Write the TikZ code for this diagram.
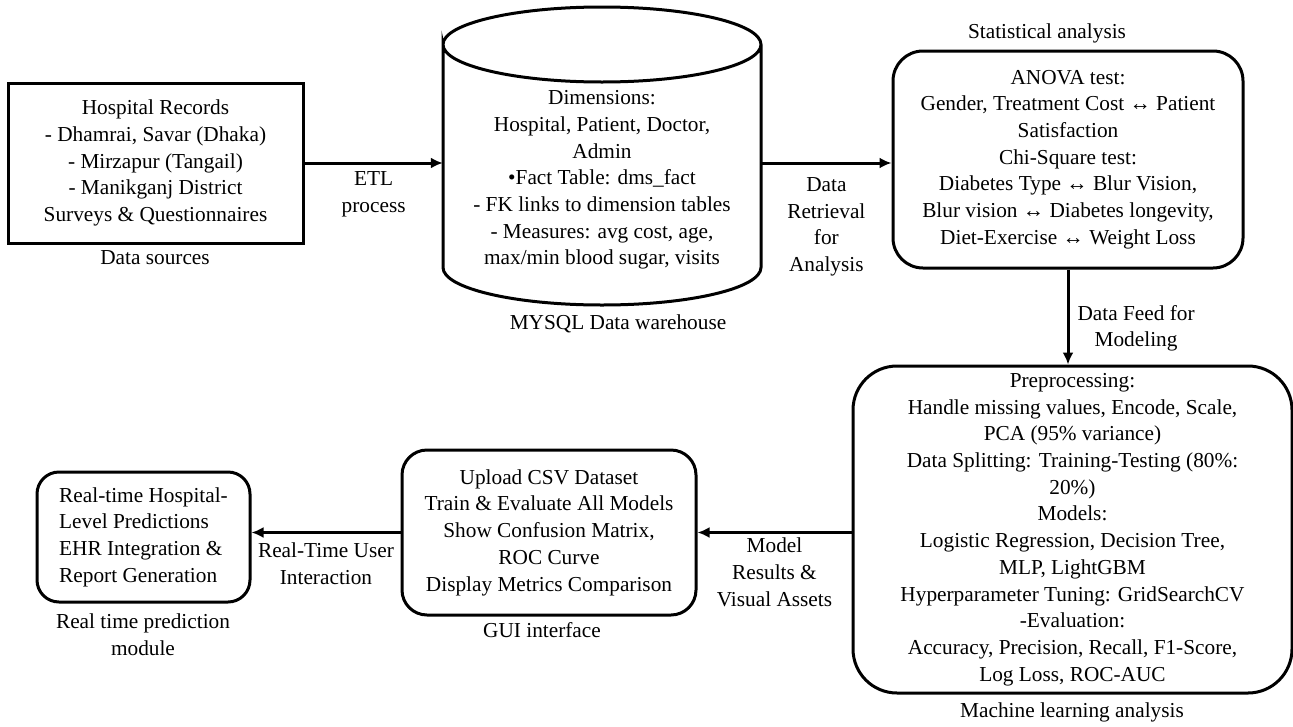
\documentclass[tikz,border=0pt]{standalone}
\usepackage{fontspec}
\setmainfont{Liberation Serif}
\usetikzlibrary{positioning,arrows.meta}
\tikzset{block/.style = {draw, line width=3pt, align=center, inner sep=0pt}}
\tikzset{rblock/.style = {block, rounded corners=28pt}}
\tikzset{caption/.style = {align=center, inner sep=0pt}}
\tikzset{flow/.style = {->, line width=3pt}}

\begin{document}
\begin{tikzpicture}[x=1pt, y=1pt, >={Latex[length=12pt,width=11pt]}, font=\fontsize{21.3}{26.7}\selectfont]
  \useasboundingbox (0,0) rectangle (1293,-726);

  \node [block, minimum width=295pt, minimum height=160pt] (src) at (155.5,-163) {Hospital Records\\- Dhamrai, Savar (Dhaka)\\- Mirzapur (Tangail)\\- Manikganj District\\Surveys \& Questionnaires};
  \node [caption] (srccap) at (155,-258) {Data sources};

  % warehouse: text node, outline drawn round it
  \node [caption, minimum width=318pt] (dw) at (602,-180) {Dimensions:\\Hospital, Patient, Doctor,\\Admin\\•Fact Table: dms\_fact\\- FK links to dimension tables\\- Measures: avg cost, age,\\max/min blood sugar, visits};
  \draw [line width=3pt] ([shift={(-159pt,135.5pt)}]dw.center) arc [start angle=180, end angle=-180, x radius=159pt, y radius=37.5pt]
    -- ([shift={(-159pt,-87.5pt)}]dw.center) arc [start angle=180, end angle=360, x radius=159pt, y radius=37.5pt]
    -- ([shift={(159pt,135.5pt)}]dw.center);
  \node [caption] (dwcap) at (618,-324) {MYSQL Data warehouse};

  \node [rblock, rounded corners=30pt, minimum width=350pt, minimum height=217pt] (stat) at (1068,-159.5) {ANOVA test:\\Gender, Treatment Cost ↔ Patient\\Satisfaction\\Chi-Square test:\\Diabetes Type ↔ Blur Vision,\\Blur vision ↔ Diabetes longevity,\\Diet-Exercise ↔ Weight Loss};
  \node [caption] (statcap) at (1047,-33) {Statistical analysis};

  \node [rblock, rounded corners=44pt, minimum width=439pt, minimum height=327pt] (ml) at (1072.5,-529.5) {Preprocessing:\\Handle missing values, Encode, Scale,\\PCA (95\% variance)\\Data Splitting: Training-Testing (80\%:\\20\%)\\Models:\\Logistic Regression, Decision Tree,\\MLP, LightGBM\\Hyperparameter Tuning: GridSearchCV\\-Evaluation:\\Accuracy, Precision, Recall, F1-Score,\\Log Loss, ROC-AUC};
  \node [caption] (mlcap) at (1072,-712) {Machine learning analysis};

  \node [rblock, rounded corners=25pt, minimum width=294pt, minimum height=165pt] (gui) at (549,-532.5) {Upload CSV Dataset\\Train \& Evaluate All Models\\Show Confusion Matrix,\\ROC Curve\\Display Metrics Comparison};
  \node [caption] (guicap) at (542,-630) {GUI interface};

  \node [rblock, rounded corners=22pt, align=left, minimum width=213pt, minimum height=130pt] (rt) at (143.5,-537) {Real-time Hospital-\\Level Predictions\\EHR Integration \&\\Report Generation};
  \node [caption] (rtcap) at (143,-635) {Real time prediction\\module};

  \draw [flow] (src.east) -- (src.east -| dw.west) node [caption, midway, below=7pt] {ETL\\process};
  \draw [flow] (src.east -| dw.east) -- (src.east -| stat.west) node [caption, midway, below=13pt] {Data\\Retrieval\\for\\Analysis};
  \draw [flow] (stat.south) -- (stat.south |- ml.north) node [caption, pos=0.62, right=8pt] {Data Feed for\\Modeling};
  \draw [flow] (gui.east -| ml.west) -- (gui.east) node [caption, midway, below=4pt] {Model\\Results \&\\Visual Assets};
  \draw [flow] (gui.west) -- (gui.west -| rt.east) node [caption, midway, below=9pt] {Real-Time User\\Interaction};
\end{tikzpicture}
\end{document}
